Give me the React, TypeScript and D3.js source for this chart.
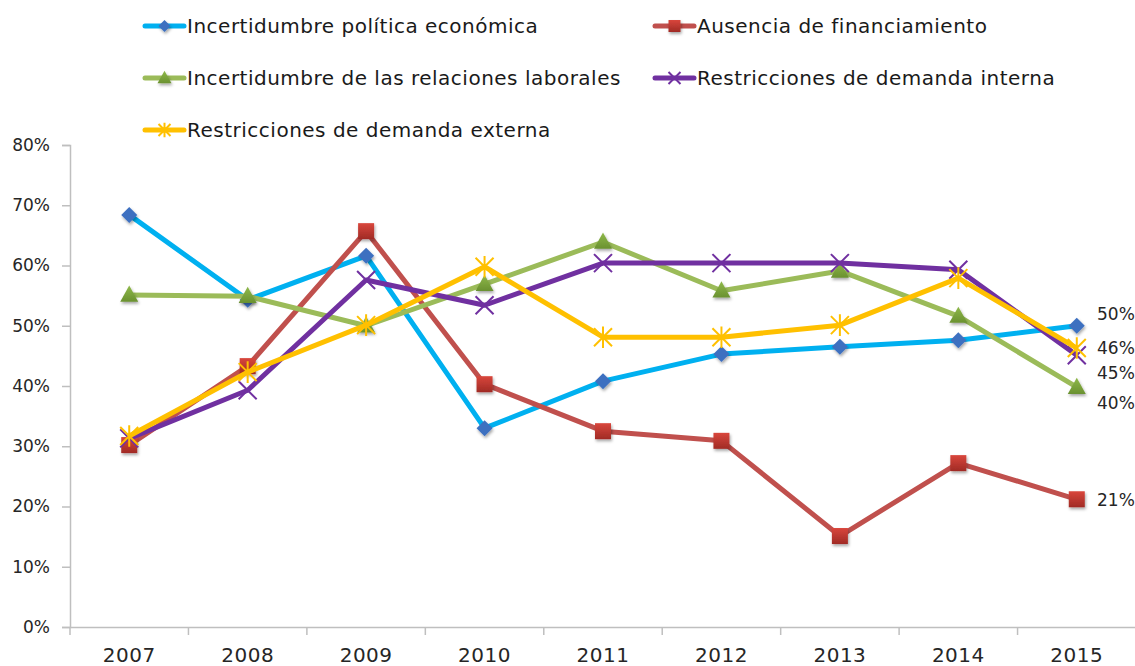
import * as d3 from 'd3';
import { useEffect, useRef } from 'react';

const years = ['2007', '2008', '2009', '2010', '2011', '2012', '2013', '2014', '2015'];

const politica = [0.684, 0.543, 0.616, 0.33, 0.408, 0.453, 0.465, 0.476, 0.5];
const financiamiento = [0.302, 0.433, 0.657, 0.403, 0.325, 0.309, 0.151, 0.272, 0.212];
const laborales = [0.551, 0.549, 0.5, 0.569, 0.639, 0.558, 0.591, 0.516, 0.398];
const demandaInterna = [0.313, 0.393, 0.576, 0.534, 0.604, 0.604, 0.604, 0.593, 0.451];
const demandaExterna = [0.317, 0.423, 0.501, 0.598, 0.481, 0.481, 0.501, 0.579, 0.463];

const yTicks = [0, 0.1, 0.2, 0.3, 0.4, 0.5, 0.6, 0.7, 0.8];

// end labels for 2015 (text, nudge so they don't overlap)
const endLabels = [
  { text: '50%', dy: -12 },
  { text: '21%', dy: 1 },
  { text: '40%', dy: 16 },
  { text: '45%', dy: 18 },
  { text: '46%', dy: 0 },
];

const series = [
  { name: 'Incertidumbre política económica', values: politica, line: '#00b0f0', fill: '#3d6fc0', marker: 'diamond' },
  { name: 'Ausencia de financiamiento', values: financiamiento, line: '#c0504d', fill: '#c0372f', marker: 'square' },
  { name: 'Incertidumbre de las relaciones laborales', values: laborales, line: '#9bbb59', fill: '#76a03a', marker: 'triangle' },
  { name: 'Restricciones de demanda interna', values: demandaInterna, line: '#7030a0', fill: '#7030a0', marker: 'x' },
  { name: 'Restricciones de demanda externa', values: demandaExterna, line: '#ffc000', fill: '#ffc000', marker: 'star' },
];

const legendPos = [
  [145, 26], [655, 26],
  [145, 78], [655, 78],
  [145, 130],
];

const font = '"DejaVu Sans", Verdana, sans-serif';

function drawMarker(g, kind, x, y, s, fill) {
  if (kind === 'diamond') {
    g.append('path').attr('d', `M${x},${y - s}L${x + s},${y}L${x},${y + s}L${x - s},${y}Z`)
      .attr('fill', fill).attr('filter', 'url(#shadow)');
  } else if (kind === 'square') {
    g.append('rect').attr('x', x - s).attr('y', y - s).attr('width', 2 * s).attr('height', 2 * s)
      .attr('fill', 'url(#redGrad)').attr('filter', 'url(#shadow)');
  } else if (kind === 'triangle') {
    g.append('path').attr('d', `M${x},${y - s * 1.05}L${x + s},${y + s * 0.75}L${x - s},${y + s * 0.75}Z`)
      .attr('fill', 'url(#greenGrad)').attr('filter', 'url(#shadow)');
  } else if (kind === 'x') {
    g.append('path').attr('d', `M${x - s},${y - s}L${x + s},${y + s}M${x - s},${y + s}L${x + s},${y - s}`)
      .attr('stroke', fill).attr('stroke-width', 2);
  } else if (kind === 'star') {
    g.append('path').attr('d', `M${x - s},${y - s}L${x + s},${y + s}M${x - s},${y + s}L${x + s},${y - s}M${x},${y - s * 1.2}L${x},${y + s * 1.2}`)
      .attr('stroke', fill).attr('stroke-width', 2);
  }
}

export default function App() {
  const svgRef = useRef(null);

  useEffect(() => {
    drawChart(svgRef.current);
  }, [svgRef]);

  return (
    <svg ref={svgRef} width={1135} height={666} style={{ position: 'absolute', left: 0, top: 0 }} />
  );
}

function drawChart(el) {
  const svg = d3.select(el);
  svg.selectAll('*').remove();

  const defs = svg.append('defs');
  const f = defs.append('filter').attr('id', 'shadow').attr('x', '-50%').attr('y', '-50%').attr('width', '200%').attr('height', '200%');
  f.append('feDropShadow').attr('dx', 1).attr('dy', 2).attr('stdDeviation', 1.5).attr('flood-color', '#000').attr('flood-opacity', 0.35);
  const rg = defs.append('linearGradient').attr('id', 'redGrad').attr('x1', 0).attr('y1', 0).attr('x2', 0).attr('y2', 1);
  rg.append('stop').attr('offset', '0%').attr('stop-color', '#d9463c');
  rg.append('stop').attr('offset', '100%').attr('stop-color', '#a02b25');
  const gg = defs.append('linearGradient').attr('id', 'greenGrad').attr('x1', 0).attr('y1', 0).attr('x2', 0).attr('y2', 1);
  gg.append('stop').attr('offset', '0%').attr('stop-color', '#8fb94a');
  gg.append('stop').attr('offset', '100%').attr('stop-color', '#6a9130');

  const x = d3.scaleBand().domain(years).range([70, 1136]);
  const y = d3.scaleLinear().domain([0, 0.8]).range([627, 145]);
  const cx = d => x(d) + x.bandwidth() / 2;

  // y axis
  const yAxis = svg.append('g').attr('transform', 'translate(70,0)')
    .call(d3.axisLeft(y).tickValues(yTicks).tickSize(8).tickPadding(12).tickFormat(d3.format('.0%')));
  yAxis.select('.domain').attr('stroke', '#bfbfbf').attr('stroke-width', 1.5);
  yAxis.selectAll('.tick line').attr('stroke', '#bfbfbf').attr('stroke-width', 1.5);
  yAxis.selectAll('.tick text').attr('font-family', font).attr('font-size', 17).attr('fill', '#262626');

  // x axis
  const xAxis = svg.append('g').attr('transform', 'translate(0,627)')
    .call(d3.axisBottom(x).tickSize(0).tickPadding(21));
  xAxis.select('.domain').attr('stroke', '#bfbfbf').attr('stroke-width', 1.5);
  xAxis.selectAll('.tick text').attr('font-family', font).attr('font-size', 20).attr('letter-spacing', 0.5).attr('fill', '#262626');
  xAxis.selectAll('.sep').data(d3.range(years.length + 1)).enter().append('line')
    .attr('x1', i => 70 + i * x.step()).attr('x2', i => 70 + i * x.step())
    .attr('y1', 0).attr('y2', 8).attr('stroke', '#bfbfbf').attr('stroke-width', 1.5);

  const line = d3.line().x((d, i) => cx(years[i])).y(d => y(d));

  series.forEach(s => {
    svg.append('path').datum(s.values).attr('d', line).attr('fill', 'none')
      .attr('stroke', s.line).attr('stroke-width', 5).attr('stroke-linejoin', 'round');
    const mg = svg.append('g');
    s.values.forEach((v, i) => {
      const size = s.marker === 'square' ? 8 : s.marker === 'diamond' ? 8 : 9;
      drawMarker(mg, s.marker, cx(years[i]), y(v), size, s.fill);
    });
  });

  // end labels
  series.forEach((s, k) => {
    const v = s.values[s.values.length - 1];
    svg.append('text').attr('x', 1097).attr('y', y(v) + endLabels[k].dy).attr('dy', '0.35em')
      .attr('font-family', font).attr('font-size', 17).attr('fill', '#262626').text(endLabels[k].text);
  });

  // legend
  series.forEach((s, k) => {
    const [lx, ly] = legendPos[k];
    const lg = svg.append('g');
    lg.append('line').attr('x1', lx).attr('x2', lx + 39).attr('y1', ly).attr('y2', ly)
      .attr('stroke', s.line).attr('stroke-width', 5).attr('stroke-linecap', 'round');
    drawMarker(lg, s.marker, lx + 19.5, ly, s.marker === 'triangle' ? 7 : 6, s.fill);
    lg.append('text').attr('x', lx + 42).attr('y', ly).attr('dy', '0.35em')
      .attr('font-family', font).attr('font-size', 20).attr('letter-spacing', 0.5).attr('fill', '#1a1a1a').text(s.name);
  });
}
